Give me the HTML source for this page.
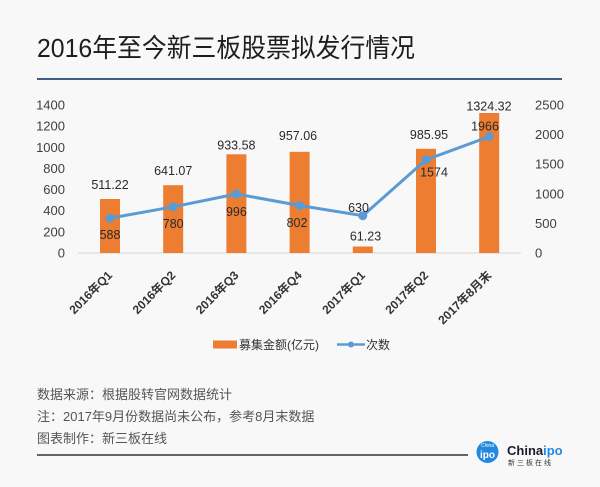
<!DOCTYPE html>
<html><head><meta charset="utf-8"><style>
html,body{margin:0;padding:0;background:#f8f8f8;}
svg{display:block;}
text{font-family:"Liberation Sans","Noto Sans CJK SC",sans-serif;}
</style></head><body>
<svg width="600" height="487" viewBox="0 0 600 487" xmlns="http://www.w3.org/2000/svg">
<rect width="600" height="487" fill="#f8f8f8"/>
<!-- title -->
<text x="37" y="57" font-size="26" fill="#1e1e1e" textLength="378" lengthAdjust="spacingAndGlyphs">2016年至今新三板股票拟发行情况</text>
<line x1="37" y1="79" x2="562" y2="79" stroke="#3f5f80" stroke-width="2"/>

<!-- left axis labels -->
<g font-size="13" fill="#404040" text-anchor="end">
<text x="65" y="109.5">1400</text>
<text x="65" y="130.6">1200</text>
<text x="65" y="151.8">1000</text>
<text x="65" y="172.9">800</text>
<text x="65" y="194.1">600</text>
<text x="65" y="215.2">400</text>
<text x="65" y="236.4">200</text>
<text x="65" y="257.5">0</text>
</g>
<!-- right axis labels -->
<g font-size="13" fill="#404040" text-anchor="start">
<text x="535" y="109.5">2500</text>
<text x="535" y="139.1">2000</text>
<text x="535" y="168.7">1500</text>
<text x="535" y="198.3">1000</text>
<text x="535" y="227.9">500</text>
<text x="535" y="257.5">0</text>
</g>

<!-- axis -->
<line x1="78" y1="253" x2="521" y2="253" stroke="#d6d6d6" stroke-width="1"/>

<!-- bars -->
<g fill="#ed7d31">
<rect x="100" y="199" width="20" height="54"/>
<rect x="163.2" y="185.2" width="20" height="67.8"/>
<rect x="226.4" y="154.3" width="20" height="98.7"/>
<rect x="289.6" y="151.8" width="20" height="101.2"/>
<rect x="352.8" y="246.5" width="20" height="6.5"/>
<rect x="416" y="148.8" width="20" height="104.2"/>
<rect x="479.2" y="113" width="20" height="140"/>
</g>

<!-- line -->
<polyline points="110,218.2 173.2,206.8 236.4,194 299.6,205.5 362.8,215.7 426,159.8 489.2,136.6" fill="none" stroke="#5b9bd5" stroke-width="3" stroke-linejoin="round"/>
<g fill="#5b9bd5">
<circle cx="110" cy="218.2" r="4.5"/>
<circle cx="173.2" cy="206.8" r="4.5"/>
<circle cx="236.4" cy="194" r="4.5"/>
<circle cx="299.6" cy="205.5" r="4.5"/>
<circle cx="362.8" cy="215.7" r="4.5"/>
<circle cx="426" cy="159.8" r="4.5"/>
<circle cx="489.2" cy="136.6" r="4.5"/>
</g>

<!-- data labels -->
<g font-size="12.5" fill="#2a2a2a" text-anchor="middle">
<text x="110" y="189">511.22</text>
<text x="173.2" y="175">641.07</text>
<text x="236.4" y="149.5">933.58</text>
<text x="298" y="140">957.06</text>
<text x="365.5" y="240.5">61.23</text>
<text x="429" y="139">985.95</text>
<text x="489" y="110.5">1324.32</text>
<text x="110" y="239">588</text>
<text x="173.2" y="228">780</text>
<text x="236.4" y="216">996</text>
<text x="297" y="227">802</text>
<text x="358.5" y="212">630</text>
<text x="434" y="176.5">1574</text>
<text x="485" y="130.5">1966</text>
</g>

<!-- x labels -->
<g font-size="12" font-weight="bold" fill="#333" text-anchor="end">
<text transform="translate(113,276) rotate(-45)">2016年Q1</text>
<text transform="translate(176.2,276) rotate(-45)">2016年Q2</text>
<text transform="translate(239.4,276) rotate(-45)">2016年Q3</text>
<text transform="translate(302.6,276) rotate(-45)">2016年Q4</text>
<text transform="translate(365.8,276) rotate(-45)">2017年Q1</text>
<text transform="translate(429,276) rotate(-45)">2017年Q2</text>
<text transform="translate(492.2,276) rotate(-45)">2017年8月末</text>
</g>

<!-- legend -->
<rect x="213" y="340.5" width="24" height="8" fill="#ed7d31"/>
<text x="239" y="349" font-size="12" fill="#333">募集金额(亿元)</text>
<line x1="337" y1="344.5" x2="365" y2="344.5" stroke="#5b9bd5" stroke-width="2.5"/>
<circle cx="351" cy="344.5" r="3" fill="#5b9bd5"/>
<text x="366" y="349" font-size="12" fill="#333">次数</text>

<!-- footer -->
<g font-size="13" fill="#555">
<text x="37" y="399">数据来源：根据股转官网数据统计</text>
<text x="37" y="421">注：2017年9月份数据尚未公布，参考8月末数据</text>
<text x="37" y="443">图表制作：新三板在线</text>
</g>
<line x1="37" y1="455" x2="468" y2="455" stroke="#333" stroke-width="1.5"/>

<!-- logo -->
<circle cx="487.5" cy="452" r="11" fill="#2389e0"/>
<text x="487.5" y="447" font-size="5" fill="#fff" text-anchor="middle">China</text>
<text x="487.5" y="458" font-size="10" font-weight="bold" fill="#fff" text-anchor="middle">ipo</text>
<text x="507" y="455" font-size="13" font-weight="bold" fill="#1c1c2c">China<tspan fill="#2389e0">ipo</tspan></text>
<text x="508" y="465" font-size="7" fill="#333" letter-spacing="2">新三板在线</text>
</svg>
</body></html>
